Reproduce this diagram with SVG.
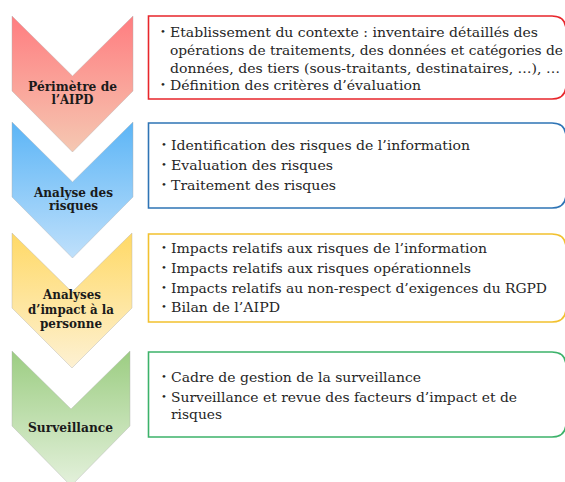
<svg xmlns="http://www.w3.org/2000/svg" width="565" height="482" viewBox="0 0 565 482">
<style>
.lbl{font-family:'DejaVu Serif','Liberation Serif',serif;font-weight:bold;font-size:12.5px;fill:#1a1a1a;text-anchor:middle}
.txt{font-family:'DejaVu Serif','Liberation Serif',serif;font-size:13.5px;fill:#262626}
.bul{font-family:'DejaVu Serif','Liberation Serif',serif;font-size:10px;fill:#262626}
.chev{stroke:#b0b0b0;stroke-opacity:0.5;stroke-width:0.8}
.box{fill:#ffffff;stroke-width:1.6}
</style>
<defs>
<linearGradient id="gRed" x1="0" y1="0" x2="0" y2="1"><stop offset="0" stop-color="#ff7d80"/><stop offset="1" stop-color="#f5c8b2"/></linearGradient>
<linearGradient id="gBlue" x1="0" y1="0" x2="0" y2="1"><stop offset="0" stop-color="#5cb5f6"/><stop offset="1" stop-color="#bfe0fb"/></linearGradient>
<linearGradient id="gYel" x1="0" y1="0" x2="0" y2="1"><stop offset="0" stop-color="#ffd966"/><stop offset="1" stop-color="#fdf1d3"/></linearGradient>
<linearGradient id="gGrn" x1="0" y1="0" x2="0" y2="1"><stop offset="0" stop-color="#9ccd82"/><stop offset="1" stop-color="#e4f1dc"/></linearGradient>
</defs>
<g id="connectors"></g>
<g id="chevron-perimetre">
<path class="chev" fill="url(#gRed)" d="M12,16 L72.5,76 L133,16 L133,91 L72.5,152 L12,91 Z"/>
<text class="lbl" x="72.5" y="90.5" textLength="89" lengthAdjust="spacingAndGlyphs">Périmètre de</text>
<text class="lbl" x="72.5" y="104" textLength="42" lengthAdjust="spacingAndGlyphs">l’AIPD</text>
</g>
<g id="chevron-analyse">
<path class="chev" fill="url(#gBlue)" d="M12,122 L72.5,182 L133,122 L133,197 L72.5,258 L12,197 Z"/>
<text class="lbl" x="73.5" y="196.5" textLength="79" lengthAdjust="spacingAndGlyphs">Analyse des</text>
<text class="lbl" x="73.5" y="210" textLength="49" lengthAdjust="spacingAndGlyphs">risques</text>
</g>
<g id="chevron-impact">
<path class="chev" fill="url(#gYel)" d="M12,233 L72,292 L132,233 L132,308 L72,368 L12,308 Z"/>
<text class="lbl" x="72" y="299" textLength="58" lengthAdjust="spacingAndGlyphs">Analyses</text>
<text class="lbl" x="71" y="314" textLength="86" lengthAdjust="spacingAndGlyphs">d’impact à la</text>
<text class="lbl" x="71" y="328" textLength="62" lengthAdjust="spacingAndGlyphs">personne</text>
</g>
<g id="chevron-surveillance">
<path class="chev" fill="url(#gGrn)" d="M12,351 L71,409 L130,351 L130,426 L71,486 L12,426 Z"/>
<text class="lbl" x="70.5" y="432" textLength="85" lengthAdjust="spacingAndGlyphs">Surveillance</text>
</g>
<g id="box-perimetre">
<path class="box" stroke="#e8262b" d="M148.5,16 L552,16 Q566,16 566,30 L566,85 Q566,99 552,99 L148.5,99 Z"/>
<text class="bul" x="160" y="35">•</text>
<text class="txt" x="170" y="37" textLength="368" lengthAdjust="spacingAndGlyphs">Etablissement du contexte : inventaire détaillés des</text>
<text class="txt" x="170" y="55" textLength="393" lengthAdjust="spacingAndGlyphs">opérations de traitements, des données et catégories de</text>
<text class="txt" x="170" y="73" textLength="390" lengthAdjust="spacingAndGlyphs">données, des tiers (sous-traitants, destinataires, …), …</text>
<text class="bul" x="160" y="88">•</text>
<text class="txt" x="170" y="90" textLength="251" lengthAdjust="spacingAndGlyphs">Définition des critères d’évaluation</text>
</g>
<g id="box-analyse">
<path class="box" stroke="#2e74b5" d="M148.5,123 L552,123 Q566,123 566,137 L566,194 Q566,208 552,208 L148.5,208 Z"/>
<text class="bul" x="161" y="148">•</text>
<text class="txt" x="171" y="150" textLength="299" lengthAdjust="spacingAndGlyphs">Identification des risques de l’information</text>
<text class="bul" x="161" y="168">•</text>
<text class="txt" x="171" y="170" textLength="162" lengthAdjust="spacingAndGlyphs">Evaluation des risques</text>
<text class="bul" x="161" y="188">•</text>
<text class="txt" x="171" y="190" textLength="165" lengthAdjust="spacingAndGlyphs">Traitement des risques</text>
</g>
<g id="box-impact">
<path class="box" stroke="#f2c12e" d="M148.5,234 L552,234 Q566,234 566,248 L566,308 Q566,322 552,322 L148.5,322 Z"/>
<text class="bul" x="161" y="251">•</text>
<text class="txt" x="171" y="253" textLength="316" lengthAdjust="spacingAndGlyphs">Impacts relatifs aux risques de l’information</text>
<text class="bul" x="161" y="271">•</text>
<text class="txt" x="171" y="273" textLength="300" lengthAdjust="spacingAndGlyphs">Impacts relatifs aux risques opérationnels</text>
<text class="bul" x="161" y="291">•</text>
<text class="txt" x="171" y="293" textLength="376" lengthAdjust="spacingAndGlyphs">Impacts relatifs au non-respect d’exigences du RGPD</text>
<text class="bul" x="161" y="310">•</text>
<text class="txt" x="171" y="312" textLength="109" lengthAdjust="spacingAndGlyphs">Bilan de l’AIPD</text>
</g>
<g id="box-surveillance">
<path class="box" stroke="#3cb26a" d="M148.5,352 L552,352 Q566,352 566,366 L566,423 Q566,437 552,437 L148.5,437 Z"/>
<text class="bul" x="161" y="380">•</text>
<text class="txt" x="171" y="382" textLength="250" lengthAdjust="spacingAndGlyphs">Cadre de gestion de la surveillance</text>
<text class="bul" x="161" y="400">•</text>
<text class="txt" x="171" y="402" textLength="346" lengthAdjust="spacingAndGlyphs">Surveillance et revue des facteurs d’impact et de</text>
<text class="txt" x="171" y="419" textLength="51" lengthAdjust="spacingAndGlyphs">risques</text>
</g>
</svg>
